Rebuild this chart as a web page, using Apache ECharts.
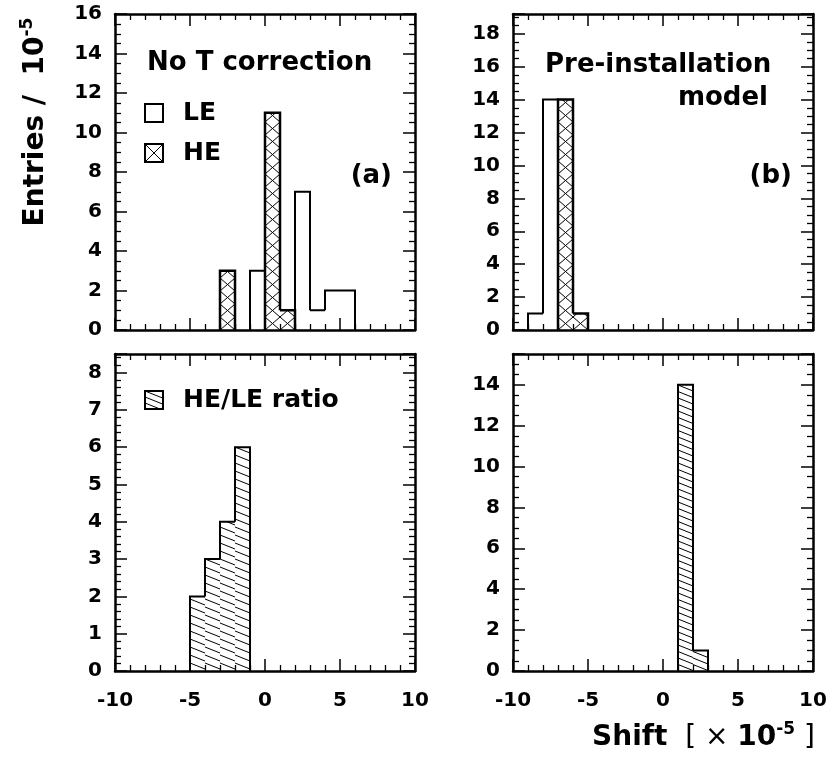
<!DOCTYPE html>
<html>
<head>
<meta charset="utf-8">
<script src="https://cdn.jsdelivr.net/npm/echarts@6/dist/echarts.min.js"></script>
<style>
html, body { margin: 0; padding: 0; background: #fff; }
#main { width: 827px; height: 759px; }
</style>
</head>
<body>
<div id="main"></div>
<script>
// unit bins from -10 to 10 (x 1e-5)
var binEdges = [-10, -9, -8, -7, -6, -5, -4, -3, -2, -1, 0, 1, 2, 3, 4, 5, 6, 7, 8, 9, 10];
// counts per bin
var leNoCorr     = [0, 0, 0, 0, 0, 0, 0, 0, 0, 3, 0, 0, 7, 1, 2, 2, 0, 0, 0, 0];
var heNoCorr     = [0, 0, 0, 0, 0, 0, 0, 3, 0, 0, 11, 1, 0, 0, 0, 0, 0, 0, 0, 0];
var lePreInst    = [0, 1, 14, 0, 0, 0, 0, 0, 0, 0, 0, 0, 0, 0, 0, 0, 0, 0, 0, 0];
var hePreInst    = [0, 0, 0, 14, 1, 0, 0, 0, 0, 0, 0, 0, 0, 0, 0, 0, 0, 0, 0, 0];
var ratioNoCorr  = [0, 0, 0, 0, 0, 2, 3, 4, 6, 0, 0, 0, 0, 0, 0, 0, 0, 0, 0, 0];
var ratioPreInst = [0, 0, 0, 0, 0, 0, 0, 0, 0, 0, 0, 14, 1, 0, 0, 0, 0, 0, 0, 0];
// y ranges of the four pads
var yMax = [16, 19.2, 8.5, 15.5];
var yStep = [2, 2, 1, 2];
var yMinorSplit = [4, 4, 5, 4];

var FONT = '"DejaVu Sans", "Liberation Sans", sans-serif';

// hatch styles: list of [slope, vertical spacing] line families (screen px)
var CROSS = [[13 / 15, 13], [-13 / 15, 13]];
var DIAG_C = [[0.4, 8]];
var DIAG_D = [[0.4, 6.5]];

// lines y = y1 + s*(x - x0) + k*d clipped to the box, anchored at box bottom-left
function hatchSegs(x0, y0, x1, y1, fams) {
  var segs = [];
  fams.forEach(function (f) {
    var s = f[0], d = f[1];
    var cs = [y0 - y1, 0, y0 - s * (x1 - x0) - y1, -s * (x1 - x0)];
    var cmin = Math.min.apply(null, cs), cmax = Math.max.apply(null, cs);
    for (var k = Math.ceil(cmin / d); k <= Math.floor(cmax / d); k++) {
      var c = k * d;
      var xa = x0 + (y0 - y1 - c) / s, xb = x0 - c / s;
      var lo = Math.max(x0, Math.min(xa, xb)), hi = Math.min(x1, Math.max(xa, xb));
      if (hi - lo < 0.5) continue;
      segs.push([lo, y1 + s * (lo - x0) + c, hi, y1 + s * (hi - x0) + c]);
    }
  });
  return segs;
}
function hatchEls(x0, y0, x1, y1, fams, z) {
  return hatchSegs(x0, y0, x1, y1, fams).map(function (g) {
    return {
      type: 'line', silent: true, z: z,
      shape: { x1: g[0], y1: g[1], x2: g[2], y2: g[3] },
      style: { stroke: '#000', lineWidth: 1 }
    };
  });
}

function histData(counts) {
  var out = [];
  counts.forEach(function (n, i) {
    if (!n) return;
    var prev = i > 0 ? counts[i - 1] : 0;
    var next = i < counts.length - 1 ? counts[i + 1] : 0;
    out.push([binEdges[i], binEdges[i + 1], n, prev, next]);
  });
  return out;
}

// one bin: white box, hatch lines and the step outline (ROOT-like histogram)
function histSeries(counts, pad, fams, lw) {
  return {
    type: 'custom',
    xAxisIndex: pad * 2,
    yAxisIndex: pad * 2,
    z: 1,
    silent: true,
    clip: true,
    data: histData(counts),
    renderItem: function (params, api) {
      var lo = api.value(0), hi = api.value(1), n = api.value(2);
      var prev = api.value(3), next = api.value(4);
      var base = api.coord([lo, 0]);
      var top = api.coord([hi, n]);
      var yl = api.coord([lo, Math.min(prev, n)])[1];
      var yr = api.coord([hi, Math.min(next, n)])[1];
      var kids = [{
        type: 'rect',
        shape: { x: base[0], y: top[1], width: top[0] - base[0], height: base[1] - top[1] },
        style: { fill: '#fff', stroke: null }
      }];
      if (fams) {
        hatchSegs(base[0], top[1], top[0], base[1], fams).forEach(function (g) {
          kids.push({
            type: 'line',
            shape: { x1: g[0], y1: g[1], x2: g[2], y2: g[3] },
            style: { stroke: '#000', lineWidth: 1 }
          });
        });
      }
      kids.push({
        type: 'polyline',
        shape: { points: [[base[0], yl], [base[0], top[1]], [top[0], top[1]], [top[0], yr]] },
        style: { stroke: '#000', lineWidth: lw, fill: null, lineJoin: 'miter' }
      });
      return { type: 'group', children: kids };
    }
  };
}

var pads = [
  { left: 115, top: 14, height: 316 },
  { left: 513, top: 14, height: 316 },
  { left: 115, top: 354, height: 317 },
  { left: 513, top: 354, height: 317 }
];

var grids = [], xAxes = [], yAxes = [];
var tickLab = { fontFamily: FONT, fontWeight: 'bold', fontSize: 20, color: '#000' };
pads.forEach(function (p, i) {
  grids.push({ left: p.left, top: p.top, width: 300, height: p.height, containLabel: false, outerBoundsMode: 'none' });
  ['bottom', 'top'].forEach(function (pos) {
    xAxes.push({
      type: 'value', gridIndex: i, position: pos, min: -10, max: 10, interval: 5, z: 3,
      axisLine: { onZero: false, lineStyle: { color: '#000', width: 2.5 } },
      axisTick: { inside: true, length: 12, lineStyle: { color: '#000', width: 1.5 } },
      minorTick: { show: true, splitNumber: 5, length: 6, lineStyle: { color: '#000', width: 1.3 } },
      splitLine: { show: false },
      axisLabel: Object.assign({ show: pos === 'bottom' && i >= 2, margin: 20 }, tickLab)
    });
  });
  ['left', 'right'].forEach(function (pos) {
    yAxes.push({
      type: 'value', gridIndex: i, position: pos, min: 0, max: yMax[i], interval: yStep[i], z: 3,
      axisLine: { onZero: false, lineStyle: { color: '#000', width: 2.5 } },
      axisTick: { inside: true, length: 12, lineStyle: { color: '#000', width: 1.5 } },
      minorTick: { show: true, splitNumber: yMinorSplit[i], length: 6, lineStyle: { color: '#000', width: 1.3 } },
      splitLine: { show: false },
      axisLabel: Object.assign({ show: pos === 'left', margin: 13, showMaxLabel: yMax[i] % yStep[i] === 0 }, tickLab)
    });
  });
});

function txt(x, y, text, size, align, more) {
  return Object.assign({
    type: 'text', x: x, y: y, silent: true, z: 10,
    style: { text: text, fill: '#000', font: 'bold ' + size + 'px ' + FONT, align: align || 'left', verticalAlign: 'middle' }
  }, more || {});
}
function box(x, y, fams) {
  var els = [{
    type: 'rect', silent: true, z: 10,
    shape: { x: x, y: y, width: 18, height: 18 },
    style: { fill: '#fff', stroke: null }
  }];
  if (fams) els = els.concat(hatchEls(x, y, x + 18, y + 18, fams, 11));
  els.push({
    type: 'rect', silent: true, z: 12,
    shape: { x: x, y: y, width: 18, height: 18 },
    style: { fill: null, stroke: '#000', lineWidth: 2 }
  });
  return els;
}

var graphics = [].concat(
  [txt(147, 63, 'No T correction', 26)],
  box(145, 104, null), [txt(183, 113, 'LE', 25)],
  box(145, 144, [[1, 18], [-1, 18]]), [txt(183, 153, 'HE', 25)],
  [txt(392, 176, '(a)', 26, 'right'),
   txt(545, 65, 'Pre-installation', 26),
   txt(768, 98, 'model', 26, 'right'),
   txt(792, 176, '(b)', 26, 'right')],
  box(145, 391, [[0.4, 6]]), [txt(183, 400, 'HE/LE ratio', 25)],
  [{
    type: 'text', x: 36, y: 122, rotation: Math.PI / 2, silent: true, z: 10,
    style: {
      text: '{b|Entries /  10}{s|-5}', align: 'center', verticalAlign: 'middle', fill: '#000',
      rich: {
        b: { font: 'bold 28px ' + FONT, fill: '#000', lineHeight: 34 },
        s: { font: 'bold 17px ' + FONT, fill: '#000', verticalAlign: 'top', lineHeight: 34 }
      }
    }
  }, {
    type: 'text', x: 815, y: 738, silent: true, z: 10,
    style: {
      text: '{b|Shift}{n|  [ \u00d7 }{b|10}{s|-5}{n| ]}', align: 'right', verticalAlign: 'middle', fill: '#000',
      rich: {
        b: { font: 'bold 28px ' + FONT, fill: '#000', lineHeight: 34 },
        n: { font: '28px ' + FONT, fill: '#000', lineHeight: 34 },
        s: { font: 'bold 17px ' + FONT, fill: '#000', verticalAlign: 'top', lineHeight: 34 }
      }
    }
  }]
);

var chart = echarts.init(document.getElementById('main'), null, { renderer: 'canvas' });
chart.setOption({
  animation: false,
  backgroundColor: '#fff',
  grid: grids,
  xAxis: xAxes,
  yAxis: yAxes,
  graphic: graphics,
  series: [
    histSeries(leNoCorr, 0, null, 2),
    histSeries(heNoCorr, 0, CROSS, 2.5),
    histSeries(lePreInst, 1, null, 2),
    histSeries(hePreInst, 1, CROSS, 2.5),
    histSeries(ratioNoCorr, 2, DIAG_C, 2),
    histSeries(ratioPreInst, 3, DIAG_D, 2)
  ]
});
</script>
</body>
</html>
